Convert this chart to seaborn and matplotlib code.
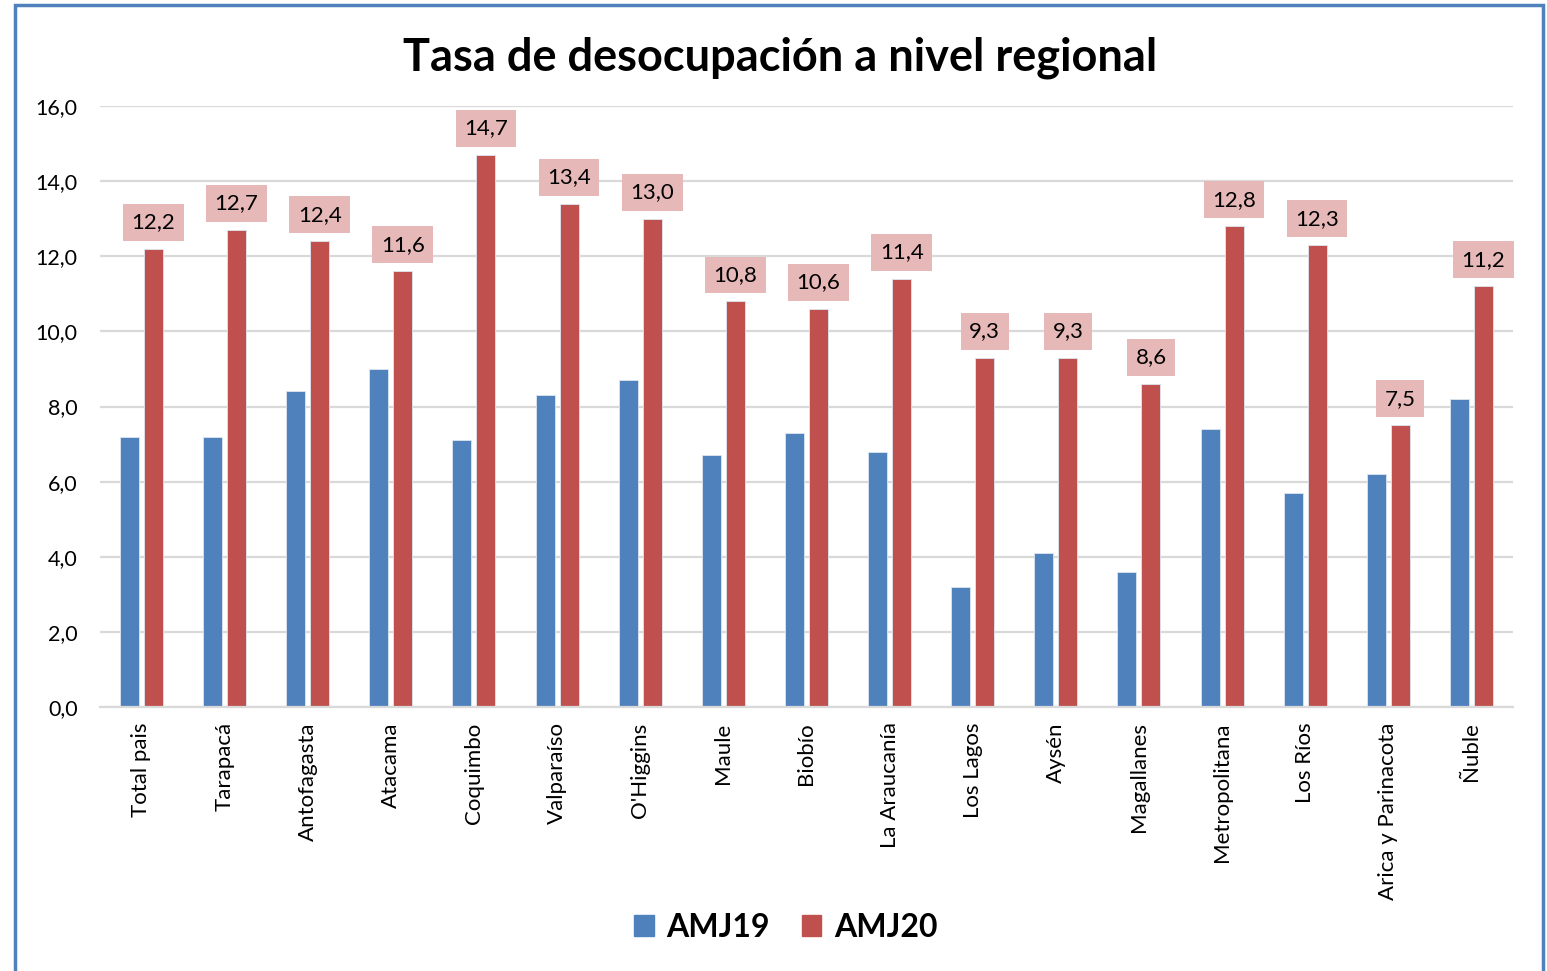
import pandas as pd
import numpy as np
import matplotlib
matplotlib.use("Agg")
import matplotlib.pyplot as plt
import seaborn as sns
from matplotlib.patches import Rectangle

regiones = ["Total pais", "Tarapacá", "Antofagasta", "Atacama", "Coquimbo",
            "Valparaíso", "O'Higgins", "Maule", "Biobío", "La Araucanía",
            "Los Lagos", "Aysén", "Magallanes", "Metropolitana", "Los Ríos",
            "Arica y Parinacota", "Ñuble"]
amj19 = [7.2, 7.2, 8.4, 9.0, 7.1, 8.3, 8.7, 6.7, 7.3, 6.8,
         3.2, 4.1, 3.6, 7.4, 5.7, 6.2, 8.2]
amj20 = [12.2, 12.7, 12.4, 11.6, 14.7, 13.4, 13.0, 10.8, 10.6, 11.4,
         9.3, 9.3, 8.6, 12.8, 12.3, 7.5, 11.2]
series = ["AMJ19", "AMJ20"]
colores = ["#4F81BD", "#C0504D"]
yticks = [0, 2, 4, 6, 8, 10, 12, 14, 16]

df = pd.DataFrame({"region": regiones * 2,
                   "serie": [series[0]] * len(regiones) + [series[1]] * len(regiones),
                   "valor": amj19 + amj20})

sns.set_style("white", {"text.color": "black", "xtick.color": "black",
                        "ytick.color": "black"})
plt.rcParams['font.family'] = ['Lato', 'DejaVu Sans']

fig = plt.figure(figsize=(15.47, 9.71), dpi=100)
ax = fig.add_axes([0.0646, 0.2719, 0.9134, 0.6189])

sns.barplot(data=df, x="region", y="valor", hue="serie", palette=colores,
            saturation=1, width=0.578, gap=0.21, ax=ax, legend=True,
            edgecolor="#dde6f0", linewidth=0.6)

ax.set_xlim(-0.5, len(regiones) - 0.5)
ax.set_ylim(0, 16)
ax.set_yticks(yticks)
ax.set_yticklabels([f"{v:.1f}".replace(".", ",") for v in yticks], fontsize=15.5)
ax.yaxis.grid(True, color="#D9D9D9", linewidth=1.6)
ax.set_axisbelow(True)
for s in ["top", "right", "left"]:
    ax.spines[s].set_visible(False)
ax.spines["bottom"].set_color("#D9D9D9")
ax.spines["bottom"].set_linewidth(1.6)
ax.tick_params(axis="y", length=0, pad=16)
ax.tick_params(axis="x", length=0, pad=11)
ax.set_xticks(range(len(regiones)))
ax.set_xticklabels(regiones, rotation=90, fontsize=16)
ax.set_xlabel("")
ax.set_ylabel("")

# etiquetas de datos sobre las barras AMJ20
for cont in ax.containers[1:2]:
    for bar, v in zip(cont, amj20):
        x = bar.get_x() + bar.get_width() / 2
        ax.annotate(f"{v:.1f}".replace(".", ","), (x, v), xytext=(0, 19),
                    textcoords="offset points", ha="center", va="center",
                    fontsize=16,
                    bbox=dict(boxstyle="square,pad=0.38", fc="#E6B9B8", ec="none"))

ax.legend_.remove()
handles = [Rectangle((0, 0), 1, 1, color=c) for c in colores]
fig.legend(handles, series, loc="center", bbox_to_anchor=(0.508, 0.045),
           ncol=2, frameon=False, handlelength=0.6, handleheight=0.6,
           columnspacing=1.0, handletextpad=0.4,
           prop={"weight": "bold", "size": 23})

fig.text(0.504, 0.941, "Tasa de desocupación a nivel regional", ha="center",
         va="center", fontsize=32.5, fontweight="bold")

# marco azul
fig.patches.append(Rectangle((0.0097, -0.05), 0.988, 1.045, transform=fig.transFigure,
                             fill=False, ec="#4F81BD", lw=2.5, zorder=10))

fig.savefig("out.png", dpi=100)
